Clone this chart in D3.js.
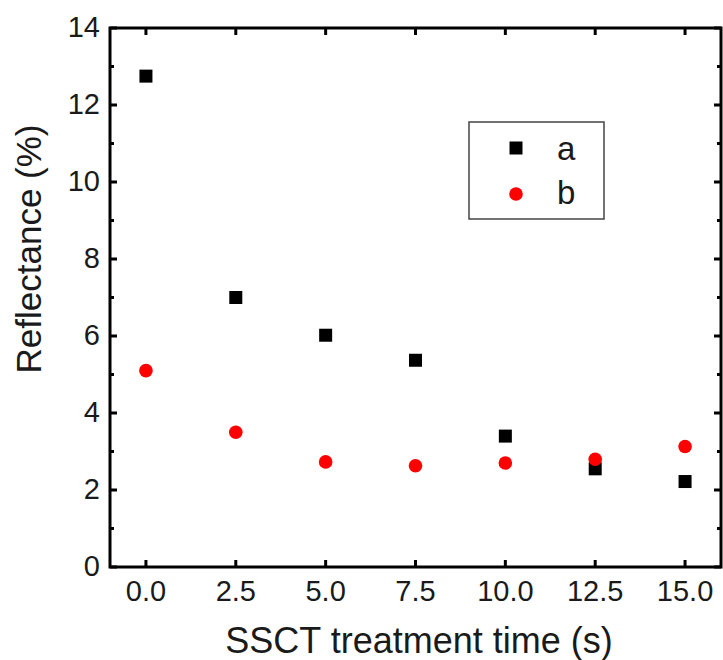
<!DOCTYPE html>
<html>
<head>
<meta charset="utf-8">
<script src="https://cdn.jsdelivr.net/npm/d3@7"></script>
<style>
  html, body { margin: 0; padding: 0; background: #fff; }
  svg { display: block; font-family: "Liberation Sans", Arial, sans-serif; }
</style>
</head>
<body>
<svg id="chart" width="723" height="660"></svg>
<script>
// Treatment times (s)
const times = [0, 2.5, 5, 7.5, 10, 12.5, 15];
// Reflectance (%) for the two samples
const seriesA = [12.75, 7.0, 6.02, 5.37, 3.4, 2.55, 2.22];
const seriesB = [5.1, 3.5, 2.73, 2.63, 2.7, 2.8, 3.13];
const seriesNames = ["a", "b"];
const xTicks = [0, 2.5, 5, 7.5, 10, 12.5, 15];
const yTicks = [0, 2, 4, 6, 8, 10, 12, 14];
const yMinorTicks = [1, 3, 5, 7, 9, 11, 13];

const svg = d3.select("#chart");
const pLeft = 110, pRight = 721, pTop = 28, pBottom = 567;

const x = d3.scaleLinear().domain([-1, 16]).range([pLeft, pRight]);
const y = d3.scaleLinear().domain([0, 14]).range([pBottom, pTop]);

const frameW = 3;
const textColor = "#1a1a1a";

// Tick marks, pointing inward, mirrored on all four sides
const ticks = svg.append("g").attr("stroke", "#000").attr("stroke-width", 3);
xTicks.forEach(t => {
  ticks.append("line").attr("x1", x(t)).attr("x2", x(t)).attr("y1", pBottom).attr("y2", pBottom - 7);
  ticks.append("line").attr("x1", x(t)).attr("x2", x(t)).attr("y1", pTop).attr("y2", pTop + 7);
});
yTicks.forEach(t => {
  ticks.append("line").attr("x1", pLeft).attr("x2", pLeft + 7).attr("y1", y(t)).attr("y2", y(t));
  ticks.append("line").attr("x1", pRight).attr("x2", pRight - 7).attr("y1", y(t)).attr("y2", y(t));
});
yMinorTicks.forEach(t => {
  ticks.append("line").attr("x1", pLeft).attr("x2", pLeft + 4).attr("y1", y(t)).attr("y2", y(t));
  ticks.append("line").attr("x1", pRight).attr("x2", pRight - 4).attr("y1", y(t)).attr("y2", y(t));
});

// Frame
svg.append("rect")
  .attr("x", pLeft).attr("y", pTop)
  .attr("width", pRight - pLeft).attr("height", pBottom - pTop)
  .attr("fill", "none").attr("stroke", "#000").attr("stroke-width", frameW);

// Tick labels
svg.append("g").selectAll("text").data(xTicks).join("text")
  .attr("x", d => x(d)).attr("y", 601)
  .attr("text-anchor", "middle").attr("font-size", 29).attr("fill", textColor)
  .text(d => d3.format(".1f")(d));

svg.append("g").selectAll("text").data(yTicks).join("text")
  .attr("x", 100).attr("y", d => y(d) + 9)
  .attr("text-anchor", "end").attr("font-size", 29).attr("fill", textColor)
  .text(d => d);

// Axis titles
svg.append("text")
  .attr("x", 419).attr("y", 653)
  .attr("text-anchor", "middle").attr("font-size", 36).attr("fill", textColor)
  .text("SSCT treatment time (s)");

svg.append("text")
  .attr("transform", "translate(41, 249) rotate(-90)")
  .attr("text-anchor", "middle").attr("font-size", 35).attr("fill", textColor)
  .text("Reflectance (%)");

// Series a: black squares
const sq = 13;
svg.append("g").selectAll("rect").data(times.map((t, i) => [t, seriesA[i]])).join("rect")
  .attr("x", d => x(d[0]) - sq / 2).attr("y", d => y(d[1]) - sq / 2)
  .attr("width", sq).attr("height", sq).attr("fill", "#000");

// Series b: red circles
svg.append("g").selectAll("circle").data(times.map((t, i) => [t, seriesB[i]])).join("circle")
  .attr("cx", d => x(d[0])).attr("cy", d => y(d[1])).attr("r", 6.8)
  .attr("fill", "#ff0000");

// Legend
const lg = svg.append("g");
lg.append("rect").attr("x", 469).attr("y", 122).attr("width", 135).attr("height", 97)
  .attr("fill", "#fff").attr("stroke", "#444").attr("stroke-width", 1.5);
lg.append("rect").attr("x", 516 - sq / 2).attr("y", 148 - sq / 2).attr("width", sq).attr("height", sq).attr("fill", "#000");
lg.append("circle").attr("cx", 516).attr("cy", 194).attr("r", 6.8).attr("fill", "#ff0000");
lg.selectAll("text").data(seriesNames).join("text")
  .attr("x", 557).attr("y", (d, i) => 160 + i * 44)
  .attr("font-size", 33).attr("fill", textColor)
  .text(d => d);
</script>
</body>
</html>
